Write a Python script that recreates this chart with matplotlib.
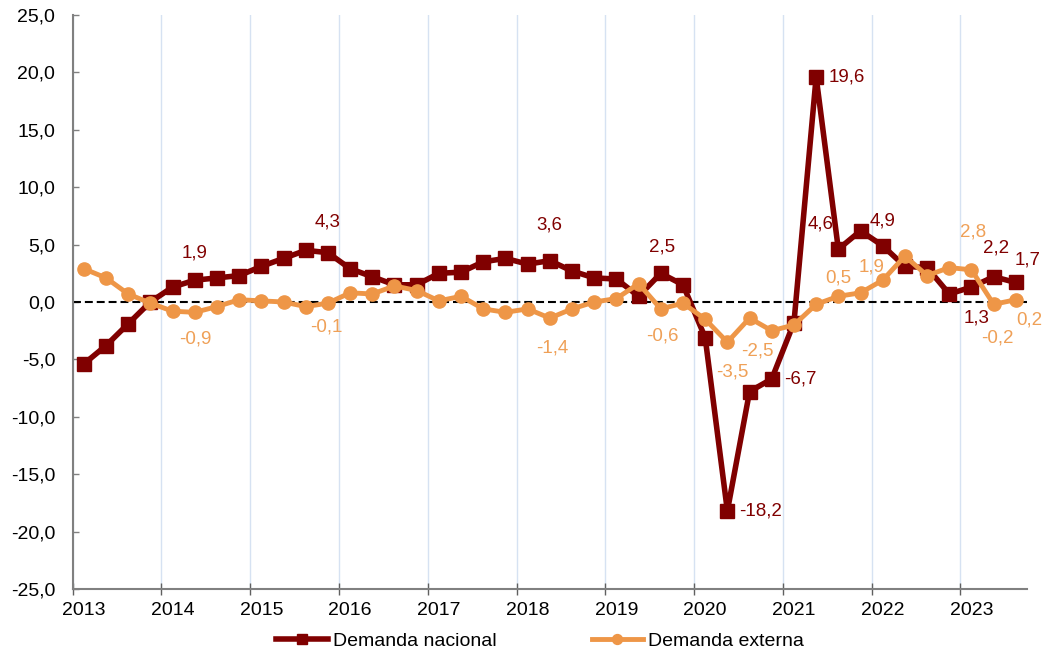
import numpy as np
import matplotlib
matplotlib.use("Agg")
import matplotlib.pyplot as plt

plt.rcParams['font.family'] = ['Liberation Sans', 'DejaVu Sans']

# Quarterly series, 2013-T1 .. 2023-T3
demanda_nacional = [
    -5.4, -3.8, -1.9, 0.0,
    1.3, 1.9, 2.1, 2.3,
    3.1, 3.8, 4.5, 4.3,
    2.9, 2.2, 1.5, 1.5,
    2.5, 2.6, 3.5, 3.8,
    3.3, 3.6, 2.7, 2.1,
    2.0, 0.5, 2.5, 1.5,
    -3.1, -18.2, -7.8, -6.7,
    -1.8, 19.6, 4.6, 6.2,
    4.9, 3.1, 3.0, 0.7,
    1.3, 2.2, 1.7,
]
demanda_externa = [
    2.9, 2.1, 0.7, -0.1,
    -0.8, -0.9, -0.4, 0.2,
    0.1, 0.0, -0.4, -0.1,
    0.8, 0.7, 1.4, 1.0,
    0.1, 0.5, -0.6, -0.9,
    -0.6, -1.4, -0.6, 0.0,
    0.3, 1.6, -0.6, -0.1,
    -1.5, -3.5, -1.4, -2.5,
    -2.0, -0.2, 0.5, 0.8,
    1.9, 4.0, 2.3, 3.0,
    2.8, -0.2, 0.2,
]
years = list(range(2013, 2024))

# labelled quarters: index -> (dx, dy) offset in pixels, horizontal alignment
labels_nacional = {
    5: (0, 27, 'center'), 11: (0, 31, 'center'), 21: (0, 36, 'center'),
    26: (1, 26, 'center'), 29: (12, 0, 'left'), 31: (12, 0, 'left'),
    33: (12, 0, 'left'), 34: (-5, 25, 'right'), 36: (0, 25, 'center'),
    40: (5, -31, 'center'), 41: (2, 29, 'center'), 42: (12, 22, 'center'),
}
labels_externa = {
    5: (1, -27, 'center'), 11: (-2, -24, 'center'), 21: (2, -30, 'center'),
    26: (2, -27, 'center'), 29: (5, -30, 'center'), 31: (-14, -20, 'center'),
    34: (0, 18, 'center'), 36: (-11, 13, 'center'), 40: (2, 38, 'center'),
    41: (4, -34, 'center'), 42: (13, -20, 'center'),
}

col_nac = '#800000'
col_ext = '#EE9647'
col_ext_txt = '#EFA057'

x = 2013 + (np.arange(len(demanda_nacional)) + 0.5) / 4

fig = plt.figure(figsize=(10.49, 6.52), dpi=100)
ax = fig.add_axes([0.0693, 0.0966, 0.9097, 0.8804])

ax.axhline(0, color='black', lw=1.5, ls=(0, (3.8, 1.9)), zorder=2)
ax.plot(x, demanda_nacional, color=col_nac, lw=4, marker='s', ms=9.5,
        label='Demanda nacional', zorder=3)
ax.plot(x, demanda_externa, color=col_ext, lw=3.5, marker='o', ms=9.5,
        label='Demanda externa', zorder=4)


def fmt(v):
    return f'{v:.1f}'.replace('.', ',')


px = 0.72  # points per pixel at 100 dpi
for i, (dx, dy, ha) in labels_nacional.items():
    ax.annotate(fmt(demanda_nacional[i]), (x[i], demanda_nacional[i]),
                xytext=(dx * px, dy * px), textcoords='offset points',
                ha=ha, va='center', fontsize=13.5, color=col_nac, zorder=5)
for i, (dx, dy, ha) in labels_externa.items():
    ax.annotate(fmt(demanda_externa[i]), (x[i], demanda_externa[i]),
                xytext=(dx * px, dy * px), textcoords='offset points',
                ha=ha, va='center', fontsize=13.5, color=col_ext_txt, zorder=5)

ax.set_xlim(2013, 2023.75)
ax.set_ylim(-25, 25)

yt = np.arange(-25, 26, 5)
ax.set_yticks(yt)
ax.set_yticklabels([fmt(v) for v in yt])
ax.tick_params(axis='y', direction='in', length=4.5, width=1, color='#808080',
               pad=12.5, labelsize=14)

ax.set_xticks(years)
ax.set_xticklabels([])
ax.tick_params(axis='x', which='major', direction='inout', length=8, width=1,
               color='#606060')
ax.set_xticks([y + 0.125 for y in years], minor=True)
ax.set_xticklabels([str(y) for y in years], minor=True)
ax.tick_params(axis='x', which='minor', length=0, pad=9, labelsize=14)

ax.grid(axis='x', which='major', color='#D6E2F2', lw=1, zorder=0)
ax.set_axisbelow(True)

for s in ('top', 'right'):
    ax.spines[s].set_visible(False)
for s in ('left', 'bottom'):
    ax.spines[s].set_color('#808080')
    ax.spines[s].set_linewidth(1.5)

fig.legend(loc='center', bbox_to_anchor=(540 / 1049, 1 - 641 / 652), ncol=2,
           frameon=False, fontsize=14, handlelength=2.65, handletextpad=0.25,
           columnspacing=4.9, markerscale=0.75, borderpad=0)

fig.savefig('out.png', dpi=100)
